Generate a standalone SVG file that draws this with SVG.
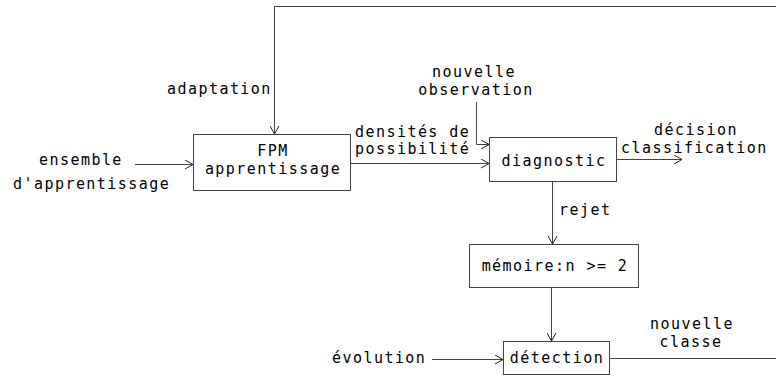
<svg xmlns="http://www.w3.org/2000/svg" width="776" height="379" viewBox="0 0 776 379">
<defs>
<style>
text{font-family:"DejaVu Sans Mono","Liberation Mono",monospace;font-size:15px;letter-spacing:1.45px;fill:#000}
.box{fill:#fff;stroke:#444;stroke-width:1}
.ln{fill:none;stroke:#444;stroke-width:1}
.mid{text-anchor:middle}
</style>
<marker id="ah" viewBox="0 0 8 10" refX="8" refY="5" markerWidth="8" markerHeight="10" markerUnits="userSpaceOnUse" orient="auto">
<path d="M0,0.5 L8,5 L0,9.5" fill="none" stroke="#222" stroke-width="1"/>
</marker>
</defs>
<rect width="776" height="379" fill="#fff"/>
<g id="connectors">
<path class="ln" d="M776,6.5 H274.5 V134" marker-end="url(#ah)"/>
<path class="ln" d="M135,164.5 H193" marker-end="url(#ah)"/>
<path class="ln" d="M351,163.5 H489" marker-end="url(#ah)"/>
<path class="ln" d="M476.5,102 V144.5 H489" marker-end="url(#ah)"/>
<path class="ln" d="M617,159.5 H682" marker-end="url(#ah)"/>
<path class="ln" d="M552.5,182 V244" marker-end="url(#ah)"/>
<path class="ln" d="M551.5,288 V341" marker-end="url(#ah)"/>
<path class="ln" d="M432,359.5 H503" marker-end="url(#ah)"/>
<path class="ln" d="M610,358.5 H776"/>
</g>
<g id="labels">
<text x="167" y="94">adaptation</text>
<text x="39" y="165">ensemble</text>
<text x="13" y="189">d'apprentissage</text>
<text x="355" y="137">densités de</text>
<text x="355" y="154">possibilité</text>
<text x="474" y="77" class="mid">nouvelle</text>
<text x="476" y="95" class="mid">observation</text>
<text x="696" y="135" class="mid">décision</text>
<text x="621" y="153">classification</text>
<text x="559" y="215">rejet</text>
<text x="332" y="363">évolution</text>
<text x="692" y="329" class="mid">nouvelle</text>
<text x="691" y="347" class="mid">classe</text>
</g>
<g id="fpm">
<rect class="box" x="193.5" y="134.5" width="157" height="56"/>
<text x="273" y="156" class="mid">FPM</text>
<text x="273" y="174" class="mid">apprentissage</text>
</g>
<g id="diagnostic">
<rect class="box" x="489.5" y="137.5" width="127" height="44"/>
<text x="554" y="166" class="mid">diagnostic</text>
</g>
<g id="memoire">
<rect class="box" x="469.5" y="244.5" width="169" height="43"/>
<text x="555" y="271" class="mid">mémoire:n &gt;= 2</text>
</g>
<g id="detection">
<rect class="box" x="503.5" y="341.5" width="106" height="33"/>
<text x="557" y="363" class="mid">détection</text>
</g>
</svg>
